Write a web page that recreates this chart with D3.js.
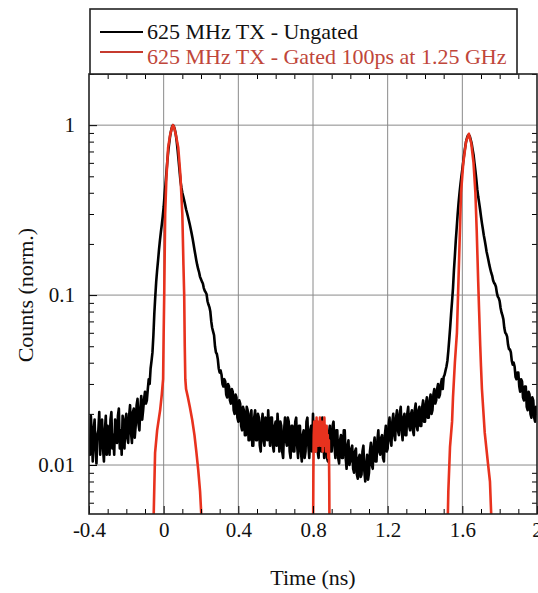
<!DOCTYPE html>
<html>
<head>
<meta charset="utf-8">
<script src="https://cdn.jsdelivr.net/npm/d3@7"></script>
<style>
  body { margin: 0; background: #fff; }
  text { font-family: "Liberation Serif", "Times New Roman", serif; }
</style>
</head>
<body>
<svg id="chart" width="538" height="593"></svg>
<script>
// ungated trace, one count per 5 ps bin starting at -0.4 ns (one row = 0.1 ns)
const blackStart = -0.4;
const blackStep = 0.005;
const blackCounts = [
  0.014, 0.0115, 0.0195, 0.015, 0.0105, 0.016, 0.0185, 0.0125, 0.0102, 0.015, 0.016, 0.0205, 0.0115, 0.017, 0.0185, 0.0125, 0.0105, 0.016, 0.0195, 0.0115,
  0.017, 0.0135, 0.0115, 0.0185, 0.0205, 0.0125, 0.015, 0.0115, 0.0185, 0.016, 0.0135, 0.0195, 0.0215, 0.0125, 0.016, 0.0115, 0.0195, 0.017, 0.0125, 0.0185,
  0.020, 0.0145, 0.0135, 0.0195, 0.0225, 0.0155, 0.0135, 0.0205, 0.0215, 0.0145, 0.017, 0.0225, 0.0245, 0.0175, 0.016, 0.0215, 0.0255, 0.0185, 0.021, 0.0245,
  0.027, 0.023, 0.024, 0.028, 0.032, 0.030, 0.037, 0.041, 0.046, 0.058, 0.078, 0.098, 0.12, 0.14, 0.16, 0.185, 0.21, 0.235, 0.26, 0.29,
  0.33, 0.39, 0.45, 0.53, 0.62, 0.71, 0.79, 0.87, 0.93, 0.98, 1.0, 0.98, 0.94, 0.88, 0.80, 0.71, 0.62, 0.54, 0.47, 0.43,
  0.40, 0.38, 0.36, 0.34, 0.32, 0.305, 0.29, 0.275, 0.26, 0.245, 0.23, 0.215, 0.20, 0.185, 0.172, 0.16, 0.150, 0.142, 0.136, 0.128,
  0.124, 0.120, 0.117, 0.110, 0.106, 0.104, 0.101, 0.092, 0.088, 0.085, 0.080, 0.070, 0.064, 0.061, 0.058, 0.050, 0.046, 0.045, 0.042, 0.037,
  0.035, 0.036, 0.034, 0.030, 0.029, 0.032, 0.031, 0.026, 0.025, 0.030, 0.029, 0.024, 0.023, 0.028, 0.027, 0.021, 0.020, 0.026, 0.025, 0.019,
  0.018, 0.024, 0.023, 0.017, 0.016, 0.022, 0.021, 0.015, 0.015, 0.022, 0.021, 0.014, 0.014, 0.020, 0.021, 0.013, 0.013, 0.019, 0.021, 0.014,
  0.014, 0.020, 0.019, 0.013, 0.012, 0.018, 0.020, 0.014, 0.013, 0.019, 0.018, 0.014, 0.021, 0.016, 0.013, 0.019, 0.019, 0.013, 0.012, 0.017,
  0.018, 0.013, 0.020, 0.016, 0.012, 0.018, 0.017, 0.012, 0.011, 0.016, 0.019, 0.014, 0.013, 0.019, 0.018, 0.012, 0.011, 0.017, 0.017, 0.012,
  0.012, 0.018, 0.019, 0.013, 0.011, 0.017, 0.017, 0.012, 0.0105, 0.015, 0.016, 0.011, 0.012, 0.018, 0.019, 0.013, 0.011, 0.016, 0.017, 0.012,
  0.020, 0.014, 0.012, 0.018, 0.018, 0.012, 0.011, 0.016, 0.017, 0.012, 0.019, 0.014, 0.011, 0.017, 0.016, 0.011, 0.0105, 0.015, 0.017, 0.012,
  0.012, 0.017, 0.018, 0.013, 0.011, 0.016, 0.016, 0.011, 0.0102, 0.014, 0.015, 0.011, 0.011, 0.016, 0.016, 0.011, 0.0095, 0.013, 0.014, 0.010,
  0.0105, 0.0125, 0.013, 0.0095, 0.009, 0.012, 0.0125, 0.0088, 0.0083, 0.011, 0.0115, 0.0085, 0.0088, 0.012, 0.013, 0.0092, 0.008, 0.010, 0.0115, 0.0082,
  0.009, 0.012, 0.0135, 0.010, 0.0095, 0.013, 0.0145, 0.0105, 0.0105, 0.014, 0.016, 0.012, 0.0115, 0.0145, 0.015, 0.011, 0.0105, 0.015, 0.017, 0.012,
  0.0125, 0.017, 0.019, 0.014, 0.013, 0.018, 0.020, 0.015, 0.014, 0.019, 0.021, 0.016, 0.015, 0.020, 0.022, 0.016, 0.014, 0.019, 0.020, 0.015,
  0.015, 0.020, 0.022, 0.017, 0.016, 0.020, 0.021, 0.016, 0.015, 0.021, 0.023, 0.017, 0.016, 0.021, 0.022, 0.017, 0.017, 0.022, 0.024, 0.018,
  0.018, 0.023, 0.025, 0.019, 0.019, 0.024, 0.026, 0.020, 0.021, 0.026, 0.028, 0.023, 0.024, 0.028, 0.030, 0.025, 0.026, 0.030, 0.032, 0.028,
  0.033, 0.034, 0.036, 0.038, 0.041, 0.047, 0.055, 0.065, 0.078, 0.092, 0.11, 0.14, 0.17, 0.21, 0.25, 0.30, 0.35, 0.40, 0.45, 0.50,
  0.55, 0.61, 0.68, 0.74, 0.80, 0.84, 0.87, 0.875, 0.86, 0.82, 0.78, 0.72, 0.67, 0.60, 0.54, 0.48, 0.42, 0.38, 0.35, 0.32,
  0.29, 0.265, 0.245, 0.225, 0.21, 0.195, 0.18, 0.17, 0.16, 0.15, 0.142, 0.135, 0.13, 0.122, 0.118, 0.116, 0.112, 0.103, 0.098, 0.096,
  0.092, 0.084, 0.079, 0.076, 0.072, 0.064, 0.060, 0.059, 0.057, 0.051, 0.048, 0.048, 0.046, 0.041, 0.039, 0.040, 0.038, 0.033, 0.032, 0.035,
  0.035, 0.029, 0.027, 0.032, 0.031, 0.025, 0.024, 0.029, 0.029, 0.022, 0.021, 0.027, 0.026, 0.020, 0.019, 0.025, 0.024, 0.019, 0.018, 0.022,
  0.021
];

// gated trace, three separate pieces
const redPeak1Time = [-0.058, -0.052, -0.046, -0.035, -0.025, -0.019, -0.010, -0.003, 0.000, 0.003,
  0.008, 0.015, 0.024, 0.035, 0.045, 0.050, 0.056, 0.065, 0.078, 0.090,
  0.100, 0.106, 0.110, 0.113, 0.116, 0.120, 0.130, 0.140, 0.153, 0.165,
  0.175, 0.185, 0.195, 0.202, 0.210];
const redPeak1Counts = [0.003, 0.006, 0.0118, 0.016, 0.019, 0.021, 0.026, 0.032, 0.06, 0.10,
  0.30, 0.50, 0.74, 0.88, 0.97, 1.0, 0.97, 0.88, 0.74, 0.50,
  0.30, 0.15, 0.10, 0.05, 0.032, 0.028, 0.025, 0.022, 0.0184, 0.015,
  0.012, 0.0094, 0.007, 0.005, 0.003];

const redHumpTime = [0.800, 0.802, 0.804, 0.807, 0.810, 0.813, 0.816, 0.819, 0.822, 0.825,
  0.828, 0.831, 0.834, 0.837, 0.840, 0.843, 0.846, 0.849, 0.852, 0.855,
  0.858, 0.861, 0.864, 0.867, 0.870, 0.873, 0.876, 0.879, 0.882, 0.885,
  0.887, 0.889];
const redHumpCounts = [0.003, 0.009, 0.015, 0.018, 0.013, 0.017, 0.012, 0.019, 0.014, 0.018,
  0.013, 0.017, 0.015, 0.019, 0.013, 0.018, 0.014, 0.017, 0.012, 0.018,
  0.015, 0.019, 0.013, 0.016, 0.012, 0.017, 0.013, 0.015, 0.011, 0.014,
  0.008, 0.003];

const redPeak2Time = [1.518, 1.525, 1.534, 1.545, 1.550, 1.560, 1.571, 1.577, 1.585, 1.593,
  1.605, 1.620, 1.635, 1.648, 1.660, 1.670, 1.677, 1.685, 1.690, 1.696,
  1.700, 1.705, 1.720, 1.737, 1.748, 1.755, 1.760];
const redPeak2Counts = [0.003, 0.007, 0.0128, 0.018, 0.025, 0.04, 0.06, 0.10, 0.20, 0.40,
  0.60, 0.80, 0.89, 0.78, 0.60, 0.40, 0.24, 0.12, 0.08, 0.05,
  0.038, 0.028, 0.0155, 0.0103, 0.008, 0.005, 0.003];

const xMajor = [-0.4, 0, 0.4, 0.8, 1.2, 1.6, 2];
const xLabels = ["-0.4", "0", "0.4", "0.8", "1.2", "1.6", "2"];
const yMajor = [0.01, 0.1, 1];
const yLabels = ["0.01", "0.1", "1"];
const legendNames = ["625 MHz TX - Ungated", "625 MHz TX - Gated 100ps at 1.25 GHz"];

const svg = d3.select("#chart");
const margin = { top: 74, right: 1, bottom: 79, left: 89 };
const W = +svg.attr("width") - margin.left - margin.right;
const H = +svg.attr("height") - margin.top - margin.bottom;

const x = d3.scaleLinear().domain([-0.4, 2]).range([0, W]);
const y = d3.scaleLog().domain([0.00515, 2]).range([H, 0]);

const g = svg.append("g").attr("transform", `translate(${margin.left},${margin.top})`);

svg.append("defs").append("clipPath").attr("id", "plotClip")
  .append("rect").attr("width", W).attr("height", H);

// grid
g.append("g").selectAll("line")
  .data(xMajor.slice(1, -1))
  .join("line")
  .attr("x1", d => x(d)).attr("x2", d => x(d))
  .attr("y1", 0).attr("y2", H)
  .attr("stroke", "#8a8a8a").attr("stroke-width", 1);
g.append("g").selectAll("line")
  .data(yMajor)
  .join("line")
  .attr("x1", 0).attr("x2", W)
  .attr("y1", d => y(d)).attr("y2", d => y(d))
  .attr("stroke", "#8a8a8a").attr("stroke-width", 1);

// traces
const line = d3.line().x(d => x(d[0])).y(d => y(d[1]));
const plot = g.append("g").attr("clip-path", "url(#plotClip)");

const blackData = blackCounts.map((v, i) => [blackStart + i * blackStep, v]);
plot.append("path")
  .datum(blackData)
  .attr("d", line)
  .attr("fill", "none")
  .attr("stroke", "#000")
  .attr("stroke-width", 2.6)
  .attr("stroke-linejoin", "round");

const redPieces = [
  d3.zip(redPeak1Time, redPeak1Counts),
  d3.zip(redHumpTime, redHumpCounts),
  d3.zip(redPeak2Time, redPeak2Counts)
];
plot.selectAll(".red")
  .data(redPieces)
  .join("path")
  .attr("class", "red")
  .attr("d", line)
  .attr("fill", "none")
  .attr("stroke", "#e8321e")
  .attr("stroke-width", 2.6)
  .attr("stroke-linejoin", "round");

// axes with inward ticks
const xMinor = x.ticks(24).filter(t => !xMajor.some(m => Math.abs(m - t) < 1e-6));
const yMinor = y.ticks().filter(t => !yMajor.some(m => Math.abs(m - t) < 1e-9));

function styleAxis(sel) {
  sel.select(".domain").remove();
  sel.selectAll("line").attr("stroke", "#000").attr("stroke-width", 1);
  sel.selectAll("text").attr("font-size", 21).attr("fill", "#111")
    .attr("font-family", "'Liberation Serif', 'Times New Roman', serif");
}

g.append("g").attr("transform", `translate(0,${H})`)
  .call(d3.axisBottom(x).tickValues(xMajor).tickFormat((d, i) => xLabels[i]).tickSize(-8).tickPadding(8))
  .call(styleAxis);
g.append("g").attr("transform", `translate(0,${H})`)
  .call(d3.axisBottom(x).tickValues(xMinor).tickFormat("").tickSize(-5))
  .call(styleAxis);
g.append("g")
  .call(d3.axisTop(x).tickValues(xMinor).tickFormat("").tickSize(-5))
  .call(styleAxis);

g.append("g")
  .call(d3.axisLeft(y).tickValues(yMajor).tickFormat((d, i) => yLabels[i]).tickSize(-8).tickPadding(14))
  .call(styleAxis);
g.append("g")
  .call(d3.axisLeft(y).tickValues(yMinor).tickFormat("").tickSize(-5))
  .call(styleAxis);
g.append("g").attr("transform", `translate(${W},0)`)
  .call(d3.axisRight(y).tickValues(yMinor).tickFormat("").tickSize(-5))
  .call(styleAxis);

// frame
g.append("rect")
  .attr("width", W).attr("height", H)
  .attr("fill", "none").attr("stroke", "#222").attr("stroke-width", 1.6);

// axis titles
svg.append("text")
  .attr("x", margin.left + x(0.8)).attr("y", 585)
  .attr("text-anchor", "middle")
  .attr("font-size", 22).attr("fill", "#111")
  .text("Time (ns)");
svg.append("text")
  .attr("transform", `translate(33,${margin.top + y(0.1)}) rotate(-90)`)
  .attr("text-anchor", "middle")
  .attr("font-size", 22).attr("fill", "#111")
  .text("Counts (norm.)");

// legend
const legend = svg.append("g");
legend.append("rect")
  .attr("x", 90).attr("y", 9).attr("width", 427).attr("height", 65)
  .attr("fill", "#fff").attr("stroke", "#222").attr("stroke-width", 1.6);
const legendColors = ["#000", "#c63b2f"];
const legendRows = legend.selectAll(".row")
  .data(legendNames)
  .join("g")
  .attr("class", "row")
  .attr("transform", (d, i) => `translate(0,${i === 0 ? 32 : 52})`);
legendRows.append("line")
  .attr("x1", 100).attr("x2", 143)
  .attr("stroke", (d, i) => legendColors[i])
  .attr("stroke-width", 2);
legendRows.append("text")
  .attr("x", 147)
  .attr("y", (d, i) => i === 0 ? 7 : 12)
  .attr("font-size", 22)
  .attr("fill", (d, i) => i === 0 ? "#111" : "#c0463a")
  .text(d => d);
</script>
</body>
</html>
